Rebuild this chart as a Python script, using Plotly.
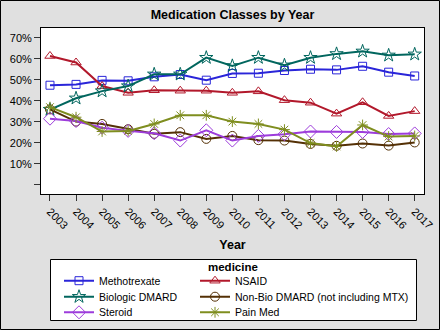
import plotly.graph_objects as go

# Share of patients on each medication class, by year
years = [2003, 2004, 2005, 2006, 2007, 2008, 2009, 2010, 2011, 2012, 2013, 2014, 2015, 2016, 2017]

methotrexate = [0.474, 0.478, 0.497, 0.495, 0.514, 0.525, 0.498, 0.530, 0.531, 0.544, 0.550, 0.547, 0.564, 0.536, 0.518]
nsaid = [0.613, 0.582, 0.470, 0.438, 0.450, 0.448, 0.448, 0.438, 0.445, 0.403, 0.391, 0.339, 0.393, 0.328, 0.351]
biologic_dmard = [0.358, 0.412, 0.446, 0.470, 0.526, 0.526, 0.605, 0.566, 0.605, 0.569, 0.605, 0.623, 0.635, 0.616, 0.621]
nonbio_dmard = [0.359, 0.301, 0.290, 0.265, 0.243, 0.251, 0.219, 0.233, 0.213, 0.211, 0.195, 0.186, 0.197, 0.187, 0.202]
steroid = [0.315, 0.304, 0.272, 0.257, 0.246, 0.211, 0.260, 0.211, 0.233, 0.241, 0.254, 0.252, 0.252, 0.242, 0.245]
pain_med = [0.370, 0.322, 0.254, 0.257, 0.290, 0.331, 0.331, 0.301, 0.290, 0.263, 0.199, 0.183, 0.285, 0.230, 0.233]

y_tick_vals = [0, 0.1, 0.2, 0.3, 0.4, 0.5, 0.6, 0.7]
y_tick_text = ["", "10%", "20%", "30%", "40%", "50%", "60%", "70%"]

# name, values, colour, marker symbol, marker size
series = [
    ("Methotrexate", methotrexate, "#2A25D9", "square-open", 8),
    ("NSAID", nsaid, "#B2182B", "triangle-up-open", 9),
    ("Biologic DMARD", biologic_dmard, "#01665E", "star-open", 10),
    ("Non-Bio DMARD (not including MTX)", nonbio_dmard, "#543005", "circle-open", 9),
    ("Steroid", steroid, "#9D3CDB", "diamond-open", 10),
    ("Pain Med", pain_med, "#7F8E1F", "asterisk-open", 9),
]

FONT = "Liberation Sans, Arial, sans-serif"
W, H = 440, 330

# Plot frame in pixels (left, right, top, bottom)
PL, PR, PT, PB = 41, 424, 28, 194


def fx(x):
    return x / W


def fy(y):
    return 1 - y / H


# Legend grid: two columns, three rows, filled row by row
legend_cols = [59, 195]
legend_rows = [280.7, 296.7, 312.3]

fig = go.Figure()
layout_legends = {}
for i, (name, vals, color, symbol, size) in enumerate(series):
    leg_id = "legend" if i == 0 else f"legend{i + 1}"
    fig.add_trace(go.Scatter(
        x=years, y=vals, name=name, mode="lines+markers", legend=leg_id,
        line=dict(color=color, width=2),
        marker=dict(symbol=symbol, size=size, color=color,
                    line=dict(color=color, width=1)),
    ))
    layout_legends[leg_id] = dict(
        x=fx(legend_cols[i % 2]), y=fy(legend_rows[i // 2]),
        xanchor="left", yanchor="middle", orientation="v",
        bgcolor="rgba(0,0,0,0)", borderwidth=0,
        font=dict(size=10.5, family=FONT, color="black"),
    )

fig.update_layout(
    width=W, height=H,
    margin=dict(l=0, r=0, t=0, b=0, pad=0),
    paper_bgcolor="#E0E0E0",
    plot_bgcolor="white",
    font=dict(family=FONT, size=11, color="black"),
    title=dict(text="<b>Medication Classes by Year</b>", x=fx((PL + PR) / 2),
               xanchor="center", y=fy(15), yanchor="middle",
               font=dict(size=12.5, family=FONT, color="black")),
    showlegend=True,
    xaxis=dict(
        domain=[fx(PL), fx(PR)], automargin=False,
        range=[2002.655, 2017.357], tickvals=years,
        ticktext=[str(y) for y in years], tickangle=45,
        ticks="outside", ticklen=6, tickcolor="#333333",
        showline=True, mirror=True, linecolor="black", linewidth=1,
        showgrid=False, zeroline=False,
        tickfont=dict(size=11),
        title=dict(text="<b>Year</b>", font=dict(size=12.5), standoff=9),
    ),
    yaxis=dict(
        domain=[fy(PB), fy(PT)], automargin=False,
        range=[-0.043, 0.746], tickvals=y_tick_vals, ticktext=y_tick_text,
        ticks="outside", ticklen=6, tickcolor="#333333",
        showline=True, mirror=True, linecolor="black", linewidth=1,
        showgrid=False, zeroline=False,
        tickfont=dict(size=11),
    ),
    **layout_legends,
)

# Legend frame and its title
fig.add_shape(type="rect", xref="paper", yref="paper", layer="below",
              x0=fx(50.5), x1=fx(416.5), y0=fy(320.5), y1=fy(259.5),
              line=dict(color="black", width=1), fillcolor="white")
fig.add_annotation(text="<b>medicine</b>", xref="paper", yref="paper",
                   x=fx(233.5), y=fy(266.5), xanchor="center", yanchor="middle",
                   showarrow=False, font=dict(size=11.5, family=FONT, color="black"))

# Thin frame around the whole graphic
fig.add_shape(type="rect", xref="paper", yref="paper", layer="above",
              x0=fx(0.5), x1=fx(W - 0.5), y0=fy(H - 0.5), y1=fy(0.5),
              line=dict(color="black", width=1), fillcolor="rgba(0,0,0,0)")

fig.write_html("out.html")
